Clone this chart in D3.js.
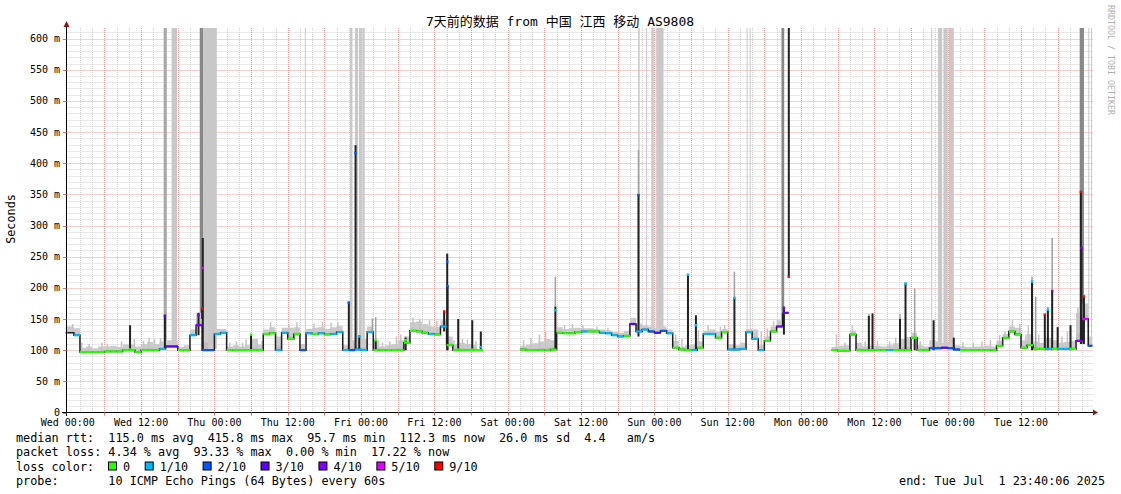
<!DOCTYPE html>
<html><head><meta charset="utf-8">
<script src="https://cdn.jsdelivr.net/npm/d3@7"></script>
<style>
html,body{margin:0;padding:0;background:#fff;}
text{font-family:"DejaVu Sans Mono","Noto Sans CJK SC",monospace;}
</style></head><body>
<svg id="chart" width="1121" height="494"></svg>
<script>
// ---------------- data ----------------
const titleText = "7天前的数据 from 中国 江西 移动 AS9808";
const xLabels = ["Wed 00:00","Wed 12:00","Thu 00:00","Thu 12:00","Fri 00:00","Fri 12:00","Sat 00:00","Sat 12:00","Sun 00:00","Sun 12:00","Mon 00:00","Mon 12:00","Tue 00:00","Tue 12:00"];
const xLabelHours = [0,12,24,36,48,60,72,84,96,108,120,132,144,156];
const yTickValues = [0,50,100,150,200,250,300,350,400,450,500,550,600];
const yTickLabels = ["0","50 m","100 m","150 m","200 m","250 m","300 m","350 m","400 m","450 m","500 m","550 m","600 m"];
const lossColors = ["#26ff00","#00b8ff","#0059ff","#5e00ff","#7e00ff","#dd00ff","#ff0000"];
const lossLabels = ["0","1/10","2/10","3/10","4/10","5/10","9/10"];

// hourly median rtt (ms), hour 0 = Wed 00:00
const medianMs = [
128,124,97,97,97,97,98,98,98,100,
100,97,100,100,100,102,106,106,100,100,
124,140,100,100,126,128,100,100,100,100,
100,100,126,127,100,128,118,126,100,127,
126,127,125,126,129,100,100,101,100,129,
100,100,100,100,100,112,131,130,128,126,
125,138,108,100,100,100,100,100,null,null,
null,null,null,null,101,100,100,100,100,101,
128,127,127,129,130,130,130,128,127,124,
122,123,142,130,133,130,128,131,127,104,
101,100,100,104,126,126,120,129,101,101,
102,129,118,100,115,130,138,160,null,null,
null,null,null,null,null,100,99,99,125,100,
100,100,100,100,100,100,100,100,120,100,
100,103,103,104,103,101,100,100,100,100,
100,100,107,120,130,125,104,108,102,102,
102,102,102,102,102,115,150,107];
// hourly upper edge of the smoke (ms)
const smokeHiMs = [
138,135,104,106,103,106,106,107,105,109,
109,106,110,113,110,114,116,114,105,108,
133,160,150,107,134,134,106,108,106,108,
118,109,133,137,122,136,136,137,110,134,
136,137,134,137,139,108,116,118,118,138,
116,106,108,110,116,122,145,146,142,138,
137,148,122,110,112,110,108,112,null,null,
null,null,null,null,107,109,111,114,118,116,
137,134,135,136,135,135,134,133,132,129,
128,131,152,143,140,138,136,138,133,115,
106,108,109,114,131,133,130,134,110,108,
112,134,133,108,122,138,148,165,null,null,
null,null,null,null,null,105,107,108,131,112,
106,107,107,106,108,111,118,121,128,108,
106,116,114,112,112,108,106,105,106,106,
107,106,115,126,138,136,116,126,114,112,
120,116,112,113,115,160,175,122];
// hourly loss class (index into lossColors)
const medianLoss = [
1,1,0,0,0,0,0,0,0,0,
0,0,0,0,0,1,3,3,0,0,
1,4,2,2,1,1,0,0,0,0,
0,0,0,0,1,1,0,0,2,1,
0,1,0,1,1,1,2,1,1,1,
0,0,0,0,0,0,0,0,0,1,
0,1,0,0,0,0,0,0,null,null,
null,null,null,null,0,0,0,0,0,0,
0,0,0,0,1,0,0,1,1,1,
1,0,3,1,1,2,3,2,1,0,
0,0,1,0,1,1,0,0,1,1,
1,1,1,1,0,0,4,3,null,null,
null,null,null,null,null,0,0,0,0,0,
0,0,0,0,1,0,0,0,0,0,
0,2,2,3,2,2,0,0,0,0,
0,0,0,0,0,0,0,0,0,0,
1,0,1,1,0,4,5,2];
// short spikes: [hour, low ms, median ms, dark smoke top ms, grey smoke top ms, loss class]
const spikes = [
[10.2,100,101,140,140,0],[15.9,102,155,157,157,3],[21.4,124,156,160,160,4],
[22.1,100,232,280,280,5],[22.0,150,167,167,167,6],[30.0,100,125,125,125,0],
[46.0,100,176,178,178,2],[47.1,100,416,429,429,2],[47.7,100,122,124,124,1],
[49.85,129,129,129,151,1],[50.4,100,116,116,153,0],[55.3,100,116,120,122,0],
[61.6,130,162,162,162,6],[62.1,100,242,255,255,2],[62.15,100,203,203,203,2],
[63.9,100,101,150,150,0],[66.2,100,101,148,148,0],[67.6,100,105,130,130,1],
[79.8,101,164,170,218,1],[93.4,122,349,349,421,2],[101.5,100,221,221,221,1],
[102.8,100,140,156,156,1],[109.1,100,184,184,226,1],[117.2,125,167,170,170,4],
[118.0,218,218,617,617,6],[131.1,100,100,155,158,0],[131.7,100,100,159,159,0],
[136.2,100,100,150,158,0],[137.1,100,207,207,207,1],[138.6,100,120,120,199,0],
[141.7,100,103,148,148,2],[145.0,100,103,120,120,3],[157.8,100,210,210,218,1],
[158.4,100,102,102,186,0],[159.9,100,157,157,157,6],[160.4,100,165,165,170,1],
[161.1,100,195,195,280,4],[162.0,100,102,137,137,0],[164.1,100,102,140,140,1],
[165.8,110,354,354,354,6],[165.9,110,264,264,264,4],[166.3,110,186,186,190,6]];
// thin grey smoke peaks: [hour, top ms]
const smokePeaks = [
[0.8,142],[2.3,112],[3.5,110],[5.6,112],[6.5,110],[8.8,114],[10.9,118],[12.4,115],[13.3,120],[14.2,118],[15.2,120],
[26.5,112],[27.6,114],[28.6,112],[29.2,117],[31.0,118],[31.8,115],
[33.2,145],[36.2,142],[37.5,145],[40.3,143],[41.7,146],[43.1,144],[44.2,145],
[51.5,112],[52.7,114],[53.8,122],[54.5,125],[56.5,152],[57.6,150],[59.2,148],[60.4,147],
[63.2,116],[64.6,118],[65.4,117],[66.8,115],
[74.6,116],[75.8,120],[77.2,125],[78.2,130],[81.3,140],[82.6,142],[84.3,140],[86.6,138],[88.4,136],
[99.5,125],[100.5,118],[103.2,132],[104.8,140],[106.8,138],[107.5,140],[113.5,130],[114.5,135],[115.5,146],
[125.8,125],[127.2,112],[128.4,140],[130.5,114],[132.5,115],[134.5,114],[135.5,120],[139.5,114],
[146.5,113],[148.2,112],[149.6,114],[151.0,116],[152.5,124],[153.4,130],[154.6,148],[155.8,142],
[156.8,125],[157.2,140],[158.9,125],[162.7,122],[163.6,130],[165.3,168]];
// packet-loss smoke reaching the top: [start hour, end hour, shade]
const lossBars = [
[15.7,16.2,1],[17.0,17.9,0],[21.6,22.2,2],[22.2,24.4,0],[38.8,38.95,0],
[46.2,46.6,0],[47.0,47.5,0],[47.65,48.1,0],[48.2,48.6,0],
[93.35,93.6,0],[94.6,94.75,0],[95.5,95.9,0],[96.3,97.5,0],
[111.1,111.25,0],[111.6,111.75,0],[116.8,117.25,2],
[141.3,141.45,0],[142.4,143.1,0],[143.3,144.0,0],[144.2,145.0,0],
[165.6,166.3,2],[167.0,167.15,0],[167.45,167.6,0]];
const barShades = ["#c8c8c8","#a8a8a8","#888888"];

const legendRows = [
"median rtt:  115.0 ms avg  415.8 ms max  95.7 ms min  112.3 ms now  26.0 ms sd  4.4   am/s",
"packet loss: 4.34 % avg  93.33 % max  0.00 % min  17.22 % now",
"loss color:",
"probe:       10 ICMP Echo Pings (64 Bytes) every 60s"];
const endText = "end: Tue Jul  1 23:40:06 2025";

// ---------------- drawing ----------------
const svg = d3.select("#chart");
svg.append("rect").attr("width",1121).attr("height",494).attr("fill","#fff");

const tStart = -1/3, tEnd = 168 - 1/3;
const x = d3.scaleLinear().domain([tStart, tEnd]).range([65.7, 1092.3]);
const y = d3.scaleLinear().domain([0, 617]).range([412.5, 28]);
const px = v => Math.round(v) + 0.5;
const X0 = 66.5, X1 = 1093, Y0 = 412.5, YT = 28;

// grid
const grid = svg.append("g");
d3.range(10, 620, 10).filter(v => v % 50 !== 0).forEach(v => {
  grid.append("line").attr("x1",X0).attr("x2",X1).attr("y1",px(y(v))).attr("y2",px(y(v)))
    .attr("stroke","#d2d2d2").attr("stroke-dasharray","1,1");
});
d3.range(0, 168, 2).filter(h => h % 6 !== 0).forEach(h => {
  grid.append("line").attr("x1",px(x(h))).attr("x2",px(x(h))).attr("y1",YT).attr("y2",Y0)
    .attr("stroke","#d2d2d2").attr("stroke-dasharray","1,1");
});
yTickValues.filter(v => v > 0).forEach(v => {
  grid.append("line").attr("x1",X0).attr("x2",X1).attr("y1",px(y(v))).attr("y2",px(y(v)))
    .attr("stroke","#f0a0a0").attr("stroke-dasharray","1,1");
});
d3.range(6, 168, 6).forEach(h => {
  grid.append("line").attr("x1",px(x(h))).attr("x2",px(x(h))).attr("y1",YT).attr("y2",Y0)
    .attr("stroke","#f0a0a0").attr("stroke-dasharray","1,1");
});

// loss bars
const data = medianMs.map((v,i) => ({t: i === 0 ? tStart : i, v, hi: smokeHiMs[i], loss: medianLoss[i]}));
svg.append("g").selectAll("rect").data(lossBars).join("rect")
  .attr("x", d => x(d[0])).attr("width", d => Math.max(1, x(d[1]) - x(d[0])))
  .attr("y", y(617))
  .attr("height", d => { const m = medianMs[Math.floor(d[0])]; return y(m == null ? 100 : m + 2) - y(617); })
  .attr("fill", d => barShades[d[2]]);

// smoke
const stepData = data.concat([{t: tEnd, v: medianMs[167], hi: smokeHiMs[167]}]);
const smokeArea = d3.area().curve(d3.curveStepAfter).defined(d => d.v != null)
  .x(d => x(d.t)).y0(d => y(d.v)).y1(d => y(d.hi));
svg.append("path").datum(stepData).attr("d", smokeArea).attr("fill","#cbcbcb");
const smokeLow = d3.area().curve(d3.curveStepAfter).defined(d => d.v != null)
  .x(d => x(d.t)).y0(d => y(d.v)).y1(d => y(d.v + (d.hi - d.v) * 0.25));
svg.append("path").datum(stepData).attr("d", smokeLow).attr("fill","#bdbdbd");
svg.append("g").selectAll("rect").data(smokePeaks).join("rect")
  .attr("x", d => x(d[0]) - 0.75).attr("width", 1.5)
  .attr("y", d => y(d[1]))
  .attr("height", d => { const m = medianMs[Math.floor(d[0])]; return Math.max(0, y(m == null ? 100 : m) - y(d[1])); })
  .attr("fill","#c4c4c4");

// spikes
const sp = svg.append("g");
sp.selectAll("rect.g").data(spikes).join("rect").attr("class","g")
  .attr("x", d => x(d[0]) - 0.75).attr("width", 1.5)
  .attr("y", d => y(d[4])).attr("height", d => y(d[3]) - y(d[4]))
  .attr("fill","#a0a0a0");
sp.selectAll("rect.d").data(spikes).join("rect").attr("class","d")
  .attr("x", d => x(d[0]) - 1).attr("width", 2)
  .attr("y", d => y(d[3])).attr("height", d => Math.max(0, y(d[1]) - y(d[3])))
  .attr("fill","#222");

// median connectors (dark) and coloured segments
const conn = d3.line().curve(d3.curveStepAfter).defined(d => d.v != null).x(d => x(d.t)).y(d => y(d.v));
svg.append("path").datum(stepData).attr("d", conn).attr("fill","none").attr("stroke","#1e1e1e").attr("stroke-width",1.5);
const segs = data.filter(d => d.v != null).map(d => ({x1: x(d.t), x2: x(Math.min(tEnd, Math.floor(d.t) + 1)), yv: y(d.v), c: lossColors[d.loss]}));
svg.append("g").selectAll("line").data(segs).join("line")
  .attr("x1", d => d.x1).attr("x2", d => d.x2).attr("y1", d => d.yv).attr("y2", d => d.yv)
  .attr("stroke", d => d.c).attr("stroke-width", 2.2);
sp.selectAll("rect.m").data(spikes).join("rect").attr("class","m")
  .attr("x", d => x(d[0]) - 1.25).attr("width", 2.5)
  .attr("y", d => y(d[2]) - 1.25).attr("height", 2.5)
  .attr("fill", d => lossColors[d[5]]);

// axes
const ax = svg.append("g");
ax.append("line").attr("x1",62).attr("x2",1094).attr("y1",Y0).attr("y2",Y0).attr("stroke","#000");
ax.append("line").attr("x1",X0).attr("x2",X0).attr("y1",416).attr("y2",26).attr("stroke","#000");
ax.append("path").attr("d",`M1093,409.5L1098,412.5L1093,415.5Z`).attr("fill","#8b1a1a");
ax.append("path").attr("d",`M63.5,27L66.5,21L69.5,27Z`).attr("fill","#8b1a1a");
d3.range(6, 168, 6).forEach(h => {
  ax.append("line").attr("x1",px(x(h))).attr("x2",px(x(h))).attr("y1",Y0).attr("y2",Y0+3).attr("stroke","#e07070");
});
yTickValues.forEach(v => {
  ax.append("line").attr("x1",63).attr("x2",X0).attr("y1",px(y(v))).attr("y2",px(y(v))).attr("stroke","#e07070");
});

svg.append("g").selectAll("text").data(yTickValues).join("text")
  .attr("x", 60).attr("y", v => y(v) + 3.5).attr("text-anchor","end")
  .attr("font-size","10px").attr("fill","#000").text((v,i) => yTickLabels[i]);
svg.append("g").selectAll("text").data(xLabelHours).join("text")
  .attr("x", h => x(h)).attr("y", 426).attr("text-anchor","middle")
  .attr("font-size","10px").attr("fill","#000").text((h,i) => xLabels[i]);

// title and side texts
svg.append("text").attr("x",560).attr("y",26).attr("text-anchor","middle")
  .attr("font-size","13px").attr("fill","#000").text(titleText);
svg.append("text").attr("transform","translate(14.5,219) rotate(-90)").attr("text-anchor","middle")
  .attr("font-size","11.8px").attr("fill","#000").text("Seconds");
svg.append("text").attr("transform","translate(1108,5) rotate(90)").attr("text-anchor","start")
  .attr("font-size","8.3px").attr("fill","#b0b0b0").text("RRDTOOL / TOBI OETIKER");

// legend
const charW = 7.08;
const rowY = [441.5, 456, 470.5, 485];
legendRows.forEach((s,i) => {
  svg.append("text").attr("x",16).attr("y",rowY[i]).attr("font-size","11.8px")
    .attr("fill","#000").style("white-space","pre").text(s);
});
let bx = 108;
lossLabels.forEach((lab,i) => {
  svg.append("rect").attr("x",bx+0.5).attr("y",rowY[2]-8.5).attr("width",8).attr("height",8)
    .attr("fill",lossColors[i]).attr("stroke","#000").attr("stroke-width",1);
  svg.append("text").attr("x",bx+15).attr("y",rowY[2]).attr("font-size","11.8px").attr("fill","#000").text(lab);
  bx = bx + 15 + lab.length*charW + 14.6;
});
svg.append("text").attr("x",1105).attr("y",rowY[3]).attr("text-anchor","end").attr("font-size","11.8px")
  .attr("fill","#000").style("white-space","pre").text(endText);
</script>
</body></html>
